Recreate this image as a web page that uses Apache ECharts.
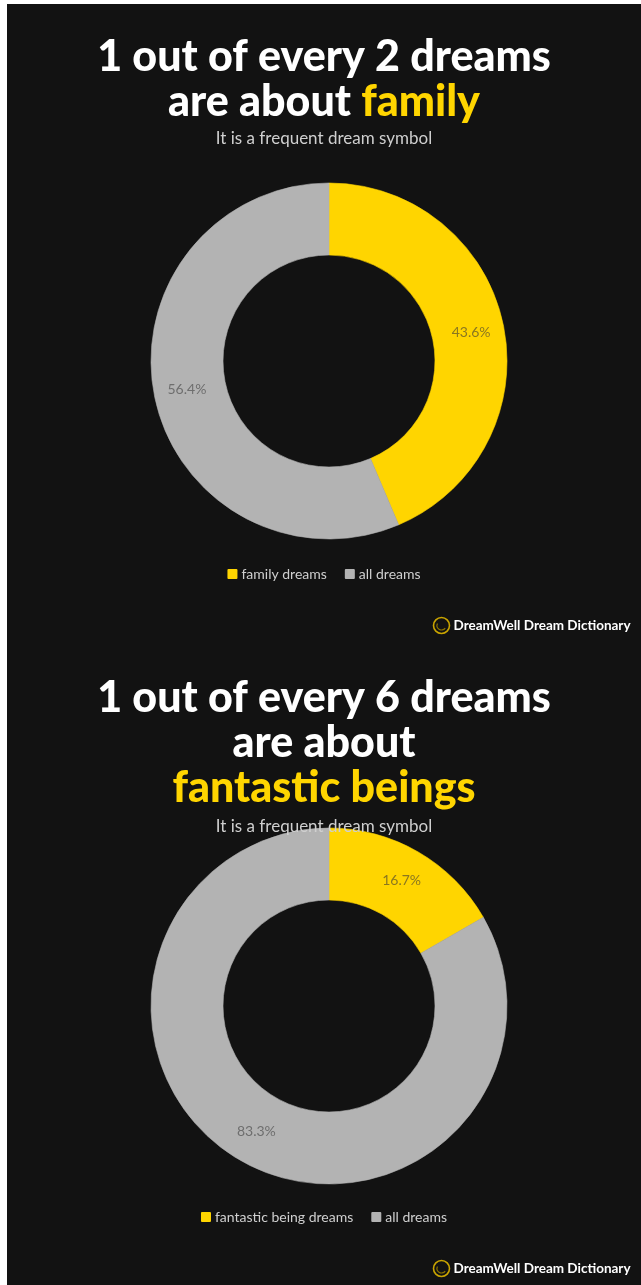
<!DOCTYPE html>
<html>
<head>
<meta charset="utf-8">
<script src="https://cdn.jsdelivr.net/npm/echarts@6/dist/echarts.min.js"></script>
<style>
  html, body { margin: 0; padding: 0; background: #ffffff; }
  #chart { position: absolute; left: 7px; top: 4px; width: 634px; height: 1281px; }
</style>
</head>
<body>
<div id="chart"></div>
<script>
// Share of dreams mentioning each symbol (percent)
const familyNames = ['family dreams', 'all dreams'];
const familyValues = [43.6, 56.4];
const beingNames = ['fantastic being dreams', 'all dreams'];
const beingValues = [16.7, 83.3];

const YELLOW = '#FFD500';
const GREY = '#B3B3B3';
const BG = '#121212';
const FONT = 'Lato, "Noto Sans", sans-serif';

function donutData(names, values) {
  return names.map((n, i) => {
    const c = i === 0 ? YELLOW : GREY;
    return {
      name: n,
      value: values[i],
      // border in the slice's own colour hides the seam between slices
      itemStyle: { color: c, borderColor: c, borderWidth: 0.6 },
      label: { color: i === 0 ? '#8a7720' : '#6e6e6e' }
    };
  });
}

function donut(names, values, cy) {
  return {
    type: 'pie',
    center: [322, cy],
    radius: [106, 178],
    startAngle: 90,
    clockwise: true,
    silent: true,
    z: 1,
    label: {
      show: true,
      position: 'inside',
      fontFamily: FONT,
      fontSize: 14,
      formatter: p => p.value.toFixed(1) + '%'
    },
    labelLine: { show: false },
    data: donutData(names, values)
  };
}

function legend(names, top) {
  return {
    data: names,
    left: 'center',
    top: top,
    icon: 'rect',
    itemWidth: 8,
    itemHeight: 8,
    itemGap: 18,
    textStyle: { color: '#cfcfcf', fontFamily: FONT, fontSize: 14 },
    selectedMode: false
  };
}

function logo(x, y) {
  return {
    type: 'group',
    left: x,
    top: y,
    children: [
      { type: 'circle', shape: { cx: 9, cy: 9, r: 8 },
        style: { fill: 'none', stroke: '#C9A400', lineWidth: 1.6 } },
      { type: 'arc', shape: { cx: 9, cy: 9, r: 4.5, startAngle: 0.6, endAngle: 3.6 },
        style: { fill: 'none', stroke: '#8a7300', lineWidth: 1.2 } },
      { type: 'text', x: 21, y: 9,
        style: { text: 'DreamWell Dream Dictionary', fill: '#ffffff',
          font: 'bold 13.5px ' + FONT, textVerticalAlign: 'middle' } }
    ]
  };
}

const titleStyle = {
  color: '#ffffff',
  fontFamily: FONT,
  fontWeight: 900,
  fontSize: 43,
  lineHeight: 45,
  rich: {
    y: { color: YELLOW, fontFamily: FONT, fontWeight: 900, fontSize: 43, lineHeight: 45 }
  }
};
const subStyle = { color: '#cfcfcf', fontFamily: FONT, fontWeight: 'normal', fontSize: 17 };

const chart = echarts.init(document.getElementById('chart'), null, { renderer: 'canvas' });
chart.setOption({
  backgroundColor: BG,
  animation: false,
  title: [
    { text: '1 out of every 2 dreams\nare about {y|family}', left: 'center', top: 26,
      textStyle: titleStyle, z: 10 },
    { text: 'It is a frequent dream symbol', left: 'center', top: 121,
      textStyle: subStyle, z: 10 },
    { text: '1 out of every 6 dreams\nare about\n{y|fantastic beings}', left: 'center', top: 667,
      textStyle: titleStyle, z: 10 },
    { text: 'It is a frequent dream symbol', left: 'center', top: 809,
      textStyle: subStyle, z: 10 }
  ],
  legend: [
    legend(familyNames, 558),
    legend(beingNames, 1201)
  ],
  series: [
    donut(familyNames, familyValues, 357),
    donut(beingNames, beingValues, 1002)
  ],
  graphic: [
    logo(424, 611),
    logo(424, 1254)
  ]
});
</script>
</body>
</html>
